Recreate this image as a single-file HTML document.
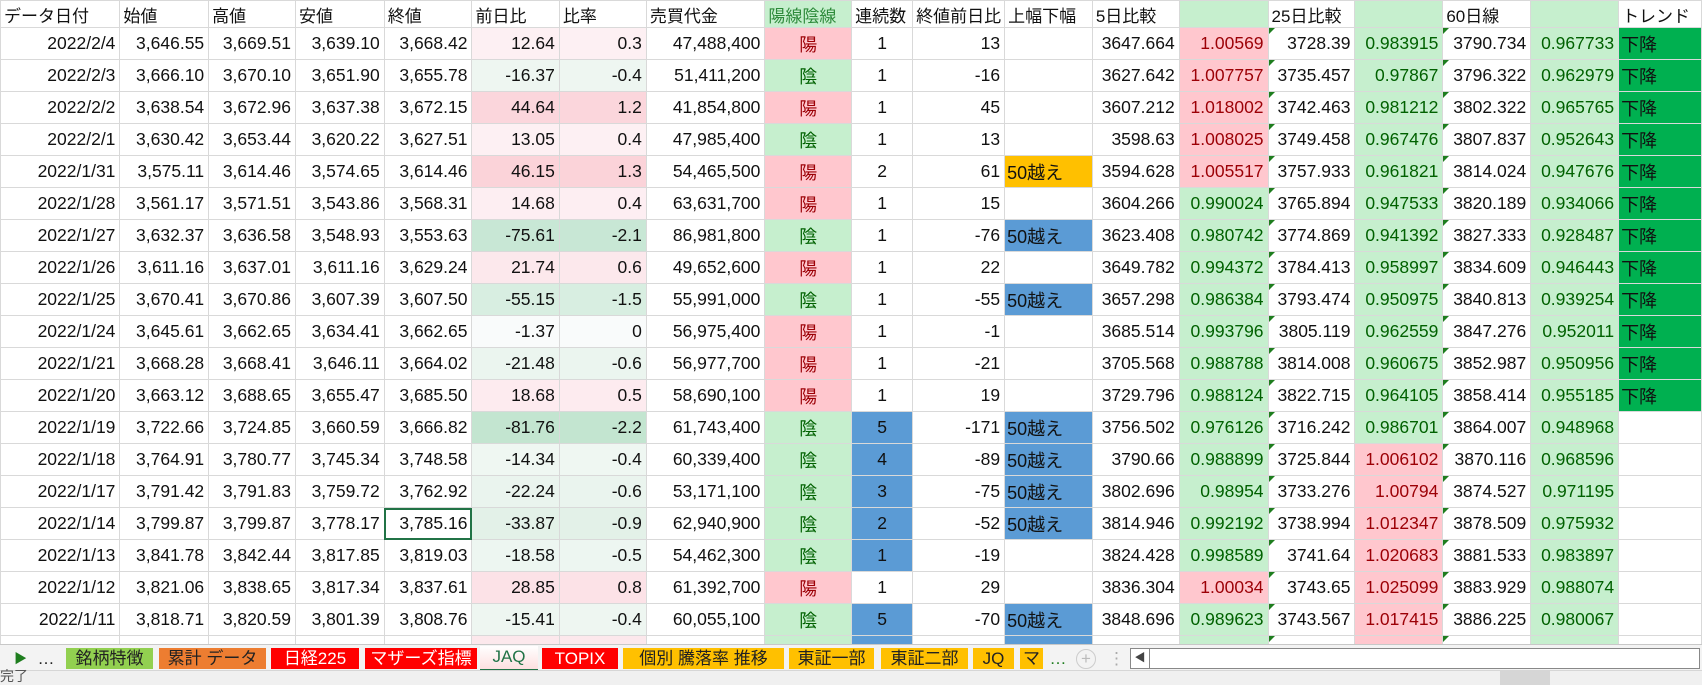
<!DOCTYPE html>
<html><head><meta charset="utf-8">
<style>
html,body{margin:0;padding:0;background:#fff;}
#w{position:relative;width:1702px;height:685px;overflow:hidden;background:#fff;}
table{position:absolute;left:0;top:0;border-collapse:collapse;table-layout:fixed;font-family:"Liberation Sans","Noto Sans CJK JP",sans-serif;font-size:17.5px;color:#111;}
td{border:1px solid #d9d9d9;padding:0 4px;height:32px;white-space:nowrap;overflow:hidden;position:relative;box-sizing:border-box;}
tr.h td{height:27px;font-family:"Liberation Sans","Noto Sans CJK JP",sans-serif;font-size:17px;text-align:left;padding:0 3px;}
td{text-align:right;}
.c{text-align:center;}
.l{text-align:left;font-family:"Liberation Sans","Noto Sans CJK JP",sans-serif;font-size:18px;padding-left:2px;}
.j{font-family:"Liberation Sans","Noto Sans CJK JP",sans-serif;font-size:18px;}
.p{background:#ffc7ce;color:#9c0006;}
.g{background:#c6efce;color:#006100;}
.gh{background:#c6efce;}
.b{background:#5b9bd5;}
.o{background:#ffc000;}
.t{background:#00b050;}
.k:before{content:"";position:absolute;left:0;top:0;border-top:6px solid #1e7d1e;border-right:6px solid transparent;}
.sel{outline:2px solid #217346;outline-offset:-2px;}
#tabs{position:absolute;left:0;top:644px;width:1702px;height:26px;background:#f3f3f3;border-top:1px solid #c8c8c8;font-family:"Liberation Sans","Noto Sans CJK JP",sans-serif;font-size:17px;}
.tb{position:absolute;top:3px;height:21px;line-height:21px;text-align:center;color:#222;}
#st{position:absolute;left:0;top:670px;width:1702px;height:15px;background:#f0f0f0;border-top:1px solid #d6d6d6;}
</style></head><body><div id="w">
<table>
<colgroup><col style="width:120px"><col style="width:89px"><col style="width:87px"><col style="width:89px"><col style="width:88px"><col style="width:88px"><col style="width:88px"><col style="width:119px"><col style="width:87px"><col style="width:61px"><col style="width:88px"><col style="width:88px"><col style="width:87px"><col style="width:89px"><col style="width:87px"><col style="width:88px"><col style="width:88px"><col style="width:88px"><col style="width:83px"></colgroup>
<tr class="h"><td>データ日付</td><td>始値</td><td>高値</td><td>安値</td><td>終値</td><td>前日比</td><td>比率</td><td>売買代金</td><td class="gh" style="color:#2d8a3a">陽線陰線</td><td>連続数</td><td>終値前日比</td><td>上幅下幅</td><td>5日比較</td><td class="gh"></td><td>25日比較</td><td class="gh"></td><td>60日線</td><td class="gh"></td><td>トレンド</td></tr>
<tr><td>2022/2/4</td><td>3,646.55</td><td>3,669.51</td><td>3,639.10</td><td>3,668.42</td><td style="background:#fdf0f3">12.64</td><td style="background:#fdf0f3">0.3</td><td>47,488,400</td><td class="c p j">陽</td><td class="c">1</td><td>13</td><td></td><td>3647.664</td><td class="p">1.00569</td><td class="k">3728.39</td><td class="g">0.983915</td><td class="k">3790.734</td><td class="g">0.967733</td><td class="l t">下降</td></tr>
<tr><td>2022/2/3</td><td>3,666.10</td><td>3,670.10</td><td>3,651.90</td><td>3,655.78</td><td style="background:#eef6f1">-16.37</td><td style="background:#eef6f1">-0.4</td><td>51,411,200</td><td class="c g j">陰</td><td class="c">1</td><td>-16</td><td></td><td>3627.642</td><td class="p">1.007757</td><td class="k">3735.457</td><td class="g">0.97867</td><td class="k">3796.322</td><td class="g">0.962979</td><td class="l t">下降</td></tr>
<tr><td>2022/2/2</td><td>3,638.54</td><td>3,672.96</td><td>3,637.38</td><td>3,672.15</td><td style="background:#fbd6dc">44.64</td><td style="background:#fbd6dc">1.2</td><td>41,854,800</td><td class="c p j">陽</td><td class="c">1</td><td>45</td><td></td><td>3607.212</td><td class="p">1.018002</td><td class="k">3742.463</td><td class="g">0.981212</td><td class="k">3802.322</td><td class="g">0.965765</td><td class="l t">下降</td></tr>
<tr><td>2022/2/1</td><td>3,630.42</td><td>3,653.44</td><td>3,620.22</td><td>3,627.51</td><td style="background:#fdf0f3">13.05</td><td style="background:#fdf0f3">0.4</td><td>47,985,400</td><td class="c g j">陰</td><td class="c">1</td><td>13</td><td></td><td>3598.63</td><td class="p">1.008025</td><td class="k">3749.458</td><td class="g">0.967476</td><td class="k">3807.837</td><td class="g">0.952643</td><td class="l t">下降</td></tr>
<tr><td>2022/1/31</td><td>3,575.11</td><td>3,614.46</td><td>3,574.65</td><td>3,614.46</td><td style="background:#fbd3d9">46.15</td><td style="background:#fbd3d9">1.3</td><td>54,465,500</td><td class="c p j">陽</td><td class="c">2</td><td>61</td><td class="l o">50越え</td><td>3594.628</td><td class="p">1.005517</td><td class="k">3757.933</td><td class="g">0.961821</td><td class="k">3814.024</td><td class="g">0.947676</td><td class="l t">下降</td></tr>
<tr><td>2022/1/28</td><td>3,561.17</td><td>3,571.51</td><td>3,543.86</td><td>3,568.31</td><td style="background:#fdeef2">14.68</td><td style="background:#fdeef2">0.4</td><td>63,631,700</td><td class="c p j">陽</td><td class="c">1</td><td>15</td><td></td><td>3604.266</td><td class="g">0.990024</td><td class="k">3765.894</td><td class="g">0.947533</td><td class="k">3820.189</td><td class="g">0.934066</td><td class="l t">下降</td></tr>
<tr><td>2022/1/27</td><td>3,632.37</td><td>3,636.58</td><td>3,548.93</td><td>3,553.63</td><td style="background:#c8e7d5">-75.61</td><td style="background:#c8e7d5">-2.1</td><td>86,981,800</td><td class="c g j">陰</td><td class="c">1</td><td>-76</td><td class="l b">50越え</td><td>3623.408</td><td class="g">0.980742</td><td class="k">3774.869</td><td class="g">0.941392</td><td class="k">3827.333</td><td class="g">0.928487</td><td class="l t">下降</td></tr>
<tr><td>2022/1/26</td><td>3,611.16</td><td>3,637.01</td><td>3,611.16</td><td>3,629.24</td><td style="background:#fce8ec">21.74</td><td style="background:#fce8ec">0.6</td><td>49,652,600</td><td class="c p j">陽</td><td class="c">1</td><td>22</td><td></td><td>3649.782</td><td class="g">0.994372</td><td class="k">3784.413</td><td class="g">0.958997</td><td class="k">3834.609</td><td class="g">0.946443</td><td class="l t">下降</td></tr>
<tr><td>2022/1/25</td><td>3,670.41</td><td>3,670.86</td><td>3,607.39</td><td>3,607.50</td><td style="background:#d8eee1">-55.15</td><td style="background:#d8eee1">-1.5</td><td>55,991,000</td><td class="c g j">陰</td><td class="c">1</td><td>-55</td><td class="l b">50越え</td><td>3657.298</td><td class="g">0.986384</td><td class="k">3793.474</td><td class="g">0.950975</td><td class="k">3840.813</td><td class="g">0.939254</td><td class="l t">下降</td></tr>
<tr><td>2022/1/24</td><td>3,645.61</td><td>3,662.65</td><td>3,634.41</td><td>3,662.65</td><td style="background:#f9fbfb">-1.37</td><td style="background:#f9fbfb">0</td><td>56,975,400</td><td class="c p j">陽</td><td class="c">1</td><td>-1</td><td></td><td>3685.514</td><td class="g">0.993796</td><td class="k">3805.119</td><td class="g">0.962559</td><td class="k">3847.276</td><td class="g">0.952011</td><td class="l t">下降</td></tr>
<tr><td>2022/1/21</td><td>3,668.28</td><td>3,668.41</td><td>3,646.11</td><td>3,664.02</td><td style="background:#ebf5ef">-21.48</td><td style="background:#ebf5ef">-0.6</td><td>56,977,700</td><td class="c p j">陽</td><td class="c">1</td><td>-21</td><td></td><td>3705.568</td><td class="g">0.988788</td><td class="k">3814.008</td><td class="g">0.960675</td><td class="k">3852.987</td><td class="g">0.950956</td><td class="l t">下降</td></tr>
<tr><td>2022/1/20</td><td>3,663.12</td><td>3,688.65</td><td>3,655.47</td><td>3,685.50</td><td style="background:#fdebef">18.68</td><td style="background:#fdebef">0.5</td><td>58,690,100</td><td class="c p j">陽</td><td class="c">1</td><td>19</td><td></td><td>3729.796</td><td class="g">0.988124</td><td class="k">3822.715</td><td class="g">0.964105</td><td class="k">3858.414</td><td class="g">0.955185</td><td class="l t">下降</td></tr>
<tr><td>2022/1/19</td><td>3,722.66</td><td>3,724.85</td><td>3,660.59</td><td>3,666.82</td><td style="background:#c3e5d0">-81.76</td><td style="background:#c3e5d0">-2.2</td><td>61,743,400</td><td class="c g j">陰</td><td class="c b">5</td><td>-171</td><td class="l b">50越え</td><td>3756.502</td><td class="g">0.976126</td><td class="k">3716.242</td><td class="g">0.986701</td><td class="k">3864.007</td><td class="g">0.948968</td><td></td></tr>
<tr><td>2022/1/18</td><td>3,764.91</td><td>3,780.77</td><td>3,745.34</td><td>3,748.58</td><td style="background:#eff7f2">-14.34</td><td style="background:#eff7f2">-0.4</td><td>60,339,400</td><td class="c g j">陰</td><td class="c b">4</td><td>-89</td><td class="l b">50越え</td><td>3790.66</td><td class="g">0.988899</td><td class="k">3725.844</td><td class="p">1.006102</td><td class="k">3870.116</td><td class="g">0.968596</td><td></td></tr>
<tr><td>2022/1/17</td><td>3,791.42</td><td>3,791.83</td><td>3,759.72</td><td>3,762.92</td><td style="background:#eaf4ee">-22.24</td><td style="background:#eaf4ee">-0.6</td><td>53,171,100</td><td class="c g j">陰</td><td class="c b">3</td><td>-75</td><td class="l b">50越え</td><td>3802.696</td><td class="g">0.98954</td><td class="k">3733.276</td><td class="p">1.00794</td><td class="k">3874.527</td><td class="g">0.971195</td><td></td></tr>
<tr><td>2022/1/14</td><td>3,799.87</td><td>3,799.87</td><td>3,778.17</td><td class="sel">3,785.16</td><td style="background:#e3f1e8">-33.87</td><td style="background:#e3f1e8">-0.9</td><td>62,940,900</td><td class="c g j">陰</td><td class="c b">2</td><td>-52</td><td class="l b">50越え</td><td>3814.946</td><td class="g">0.992192</td><td class="k">3738.994</td><td class="p">1.012347</td><td class="k">3878.509</td><td class="g">0.975932</td><td></td></tr>
<tr><td>2022/1/13</td><td>3,841.78</td><td>3,842.44</td><td>3,817.85</td><td>3,819.03</td><td style="background:#edf6f1">-18.58</td><td style="background:#edf6f1">-0.5</td><td>54,462,300</td><td class="c g j">陰</td><td class="c b">1</td><td>-19</td><td></td><td>3824.428</td><td class="g">0.998589</td><td class="k">3741.64</td><td class="p">1.020683</td><td class="k">3881.533</td><td class="g">0.983897</td><td></td></tr>
<tr><td>2022/1/12</td><td>3,821.06</td><td>3,838.65</td><td>3,817.34</td><td>3,837.61</td><td style="background:#fce2e7">28.85</td><td style="background:#fce2e7">0.8</td><td>61,392,700</td><td class="c p j">陽</td><td class="c">1</td><td>29</td><td></td><td>3836.304</td><td class="p">1.00034</td><td class="k">3743.65</td><td class="p">1.025099</td><td class="k">3883.929</td><td class="g">0.988074</td><td></td></tr>
<tr><td>2022/1/11</td><td>3,818.71</td><td>3,820.59</td><td>3,801.39</td><td>3,808.76</td><td style="background:#eef6f1">-15.41</td><td style="background:#eef6f1">-0.4</td><td>60,055,100</td><td class="c g j">陰</td><td class="c b">5</td><td>-70</td><td class="l b">50越え</td><td>3848.696</td><td class="g">0.989623</td><td class="k">3743.567</td><td class="p">1.017415</td><td class="k">3886.225</td><td class="g">0.980067</td><td></td></tr>
<tr><td></td><td></td><td></td><td></td><td></td><td style="background:#fce8ec"></td><td style="background:#fce8ec"></td><td></td><td class="g"></td><td class="b"></td><td></td><td class="b"></td><td></td><td class="g"></td><td class="k"></td><td class="p"></td><td class="k"></td><td class="g"></td><td></td></tr>
</table>
<div id="tabs">
<div class="tb" style="left:14px;color:#1e7d1e;font-size:13px;">▶</div>
<div class="tb" style="left:36px;width:20px;">…</div>
<div class="tb" style="left:66px;width:87px;background:#92d050;">銘柄特徴</div>
<div class="tb" style="left:159px;width:107px;background:#ed7d31;">累計 データ</div>
<div class="tb" style="left:271px;width:88px;background:#ff0000;color:#fff;">日経225</div>
<div class="tb" style="left:365px;width:112px;background:#ff0000;color:#fff;">マザーズ指標</div>
<div class="tb" style="left:480px;width:58px;top:1px;height:23px;background:linear-gradient(#fff,#fde0e0);color:#217346;border-bottom:3px solid #217346;">JAQ</div>
<div class="tb" style="left:542px;width:76px;background:#ff0000;color:#fff;">TOPIX</div>
<div class="tb" style="left:623px;width:161px;background:#ffc000;">個別 騰落率 推移</div>
<div class="tb" style="left:789px;width:85px;background:#ffc000;">東証一部</div>
<div class="tb" style="left:881px;width:87px;background:#ffc000;">東証二部</div>
<div class="tb" style="left:973px;width:41px;background:#ffc000;">JQ</div>
<div class="tb" style="left:1020px;width:23px;background:#ffc000;overflow:hidden;">マ</div>
<div class="tb" style="left:1048px;width:20px;color:#1e7d1e;">…</div>
<div class="tb" style="left:1076px;top:4px;width:18px;height:18px;line-height:17px;border:1px solid #ccc;border-radius:50%;color:#bbb;">+</div>
<div class="tb" style="left:1108px;color:#aaa;">⋮</div>
<div style="position:absolute;left:1130px;top:3px;width:568px;height:19px;border:1px solid #888;background:#fff;"><div style="position:absolute;left:0;top:0;width:18px;height:19px;border-right:1px solid #888;font-size:11px;line-height:19px;text-align:center;color:#444;">◀</div></div>
</div>
<div id="st">
<div style="position:absolute;left:0;top:-5px;font-family:'Noto Sans CJK JP',sans-serif;font-size:14px;color:#555;">完了</div>
<div style="position:absolute;left:1500px;top:0;width:50px;height:15px;background:#d6d6d6;"></div>
</div>
</div></body></html>
